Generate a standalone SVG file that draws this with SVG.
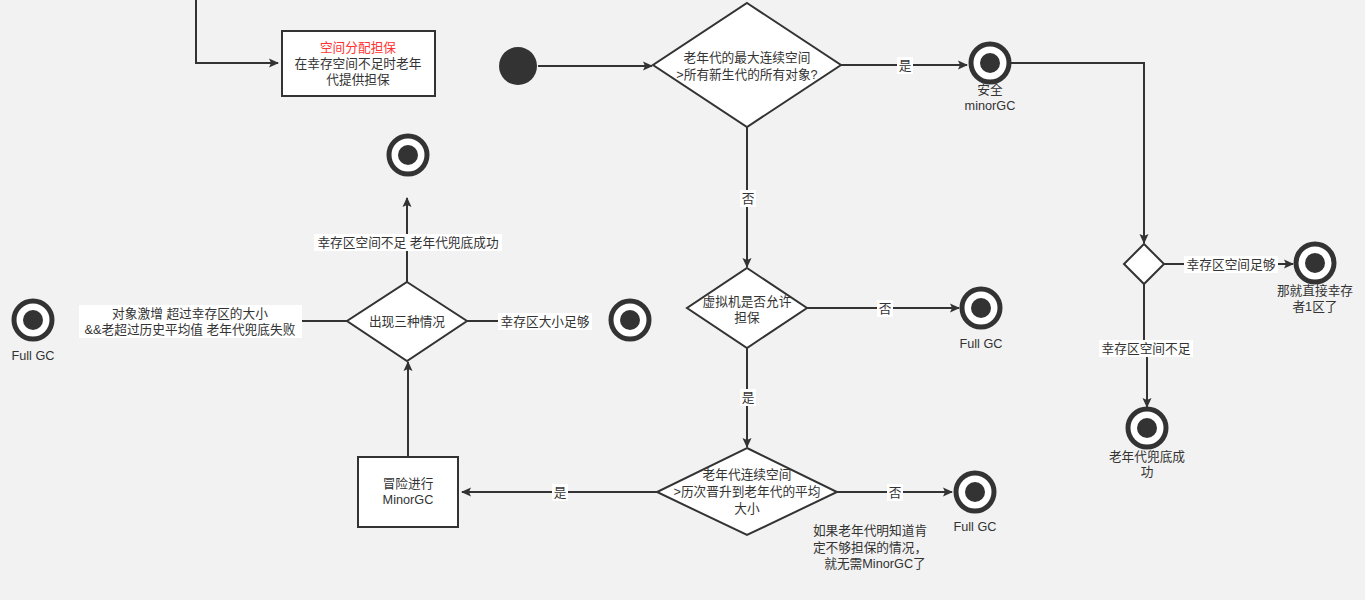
<svg xmlns="http://www.w3.org/2000/svg" width="1365" height="600" viewBox="0 0 1365 600">
<defs>
<marker id="ah" markerWidth="10" markerHeight="10" refX="9" refY="5" orient="auto" markerUnits="userSpaceOnUse"><path d="M0,0.5 L10,5 L0,9.5 L2,5 Z" fill="#333"/></marker>
<style>
.bg{fill:#f2f2f2}
.e{fill:none;stroke:#333;stroke-width:2}
.n{fill:#fff;stroke:#333;stroke-width:2}
.t{font-family:"Liberation Sans","Noto Sans CJK SC",sans-serif;font-size:12.7px;fill:#333;text-anchor:middle}
.lb{fill:#fff}
.oc{fill:#fff;stroke:#333;stroke-width:5}
.ic{fill:#333}
</style>
</defs>
<rect class="bg" x="0" y="0" width="1365" height="600"/>
<g id="connectors">
<path class="e" d="M196,0 V63 H278" marker-end="url(#ah)"/>
<path class="e" d="M538,66 H652" marker-end="url(#ah)"/>
<path class="e" d="M841,65 H967" marker-end="url(#ah)"/>
<rect class="lb" x="897" y="57" width="16" height="17"/><text class="t" x="905" y="70">是</text>
<path class="e" d="M1011,63 H1144 V243" marker-end="url(#ah)"/>
<path class="e" d="M1164,264 H1293" marker-end="url(#ah)"/>
<rect class="lb" x="1184" y="256" width="94" height="17"/><text class="t" x="1231" y="269">幸存区空间足够</text>
<path class="e" d="M1144,284 V348 H1147 V407" marker-end="url(#ah)"/>
<rect class="lb" x="1099" y="340" width="94" height="17"/><text class="t" x="1146" y="353">幸存区空间不足</text>
<path class="e" d="M747,127 V267" marker-end="url(#ah)"/>
<rect class="lb" x="740" y="190" width="16" height="17"/><text class="t" x="748" y="203">否</text>
<path class="e" d="M807,308 H959" marker-end="url(#ah)"/>
<rect class="lb" x="877" y="300" width="16" height="17"/><text class="t" x="885" y="313">否</text>
<path class="e" d="M747,348 V447" marker-end="url(#ah)"/>
<rect class="lb" x="740" y="389" width="16" height="17"/><text class="t" x="748" y="402">是</text>
<path class="e" d="M657,492 H462" marker-end="url(#ah)"/>
<rect class="lb" x="552" y="484" width="16" height="17"/><text class="t" x="560" y="497">是</text>
<path class="e" d="M837,492 H952" marker-end="url(#ah)"/>
<rect class="lb" x="887" y="484" width="16" height="17"/><text class="t" x="895" y="497">否</text>
<path class="e" d="M408,457 V362" marker-end="url(#ah)"/>
<path class="e" d="M407,282 V198" marker-end="url(#ah)"/>
<rect class="lb" x="314" y="234" width="188" height="17"/><text class="t" x="408" y="247">幸存区空间不足 老年代兜底成功</text>
<path class="e" d="M347,321 H300"/>
<rect class="lb" x="79" y="305" width="223" height="33"/><text class="t" x="190" y="318">对象激增 超过幸存区的大小</text><text class="t" x="190" y="334">&amp;&amp;老超过历史平均值 老年代兜底失败</text>
<path class="e" d="M467,321 H498"/>
<rect class="lb" x="498" y="313" width="94" height="17"/><text class="t" x="545" y="326">幸存区大小足够</text>
</g>
<g id="guarantee"><rect class="n" x="282" y="31" width="153" height="65"/><text class="t" x="358" y="52" style="fill:#ff3333">空间分配担保</text><text class="t" x="358" y="68">在幸存空间不足时老年</text><text class="t" x="358" y="84">代提供担保</text></g>
<g id="start"><circle cx="518" cy="66" r="19" fill="#333"/></g>
<g id="d1"><polygon class="n" points="747,3 841,65 747,127 653,65"/><text class="t" x="747" y="62">老年代的最大连续空间</text><text class="t" x="747" y="79">&gt;所有新生代的所有对象?</text></g>
<g id="safe"><circle class="oc" cx="990" cy="63" r="19"/><circle class="ic" cx="990" cy="63" r="10"/><text class="t" x="990" y="94">安全</text><text class="t" x="990" y="110">minorGC</text></g>
<g id="d5"><polygon class="n" points="1144,244 1164,264 1144,284 1124,264"/></g>
<g id="s1"><circle class="oc" cx="1315" cy="263" r="19"/><circle class="ic" cx="1315" cy="263" r="10"/><text class="t" x="1315" y="295">那就直接幸存</text><text class="t" x="1315" y="311">者1区了</text></g>
<g id="oldok"><circle class="oc" cx="1147" cy="428" r="19"/><circle class="ic" cx="1147" cy="428" r="10"/><text class="t" x="1147" y="461">老年代兜底成</text><text class="t" x="1147" y="476">功</text></g>
<g id="d2"><polygon class="n" points="747,268 807,308 747,348 687,308"/><text class="t" x="747" y="306">虚拟机是否允许</text><text class="t" x="747" y="322">担保</text></g>
<g id="fgc1"><circle class="oc" cx="981" cy="308" r="19"/><circle class="ic" cx="981" cy="308" r="10"/><text class="t" x="981" y="348">Full GC</text></g>
<g id="d3"><polygon class="n" points="747,448 837,492 747,535 657,492"/><text class="t" x="747" y="479">老年代连续空间</text><text class="t" x="747" y="496">&gt;历次晋升到老年代的平均</text><text class="t" x="747" y="513">大小</text></g>
<g id="fgc2"><circle class="oc" cx="975" cy="492" r="19"/><circle class="ic" cx="975" cy="492" r="10"/><text class="t" x="975" y="531">Full GC</text></g>
<g id="note"><text class="t" x="870" y="535">如果老年代明知道肯</text><text class="t" x="870" y="552">定不够担保的情况，</text><text class="t" x="875" y="568">就无需MinorGC了</text></g>
<g id="risk"><rect class="n" x="358" y="457" width="100" height="70"/><text class="t" x="408" y="488">冒险进行</text><text class="t" x="408" y="504">MinorGC</text></g>
<g id="d4"><polygon class="n" points="407,282 467,321 407,361 347,321"/><text class="t" x="407" y="326">出现三种情况</text></g>
<g id="topend"><circle class="oc" cx="408" cy="155" r="19"/><circle class="ic" cx="408" cy="155" r="10"/></g>
<g id="rightend"><circle class="oc" cx="630" cy="320" r="19"/><circle class="ic" cx="630" cy="320" r="10"/></g>
<g id="fgc3"><circle class="oc" cx="33" cy="320" r="19"/><circle class="ic" cx="33" cy="320" r="10"/><text class="t" x="33" y="360">Full GC</text></g>
</svg>
